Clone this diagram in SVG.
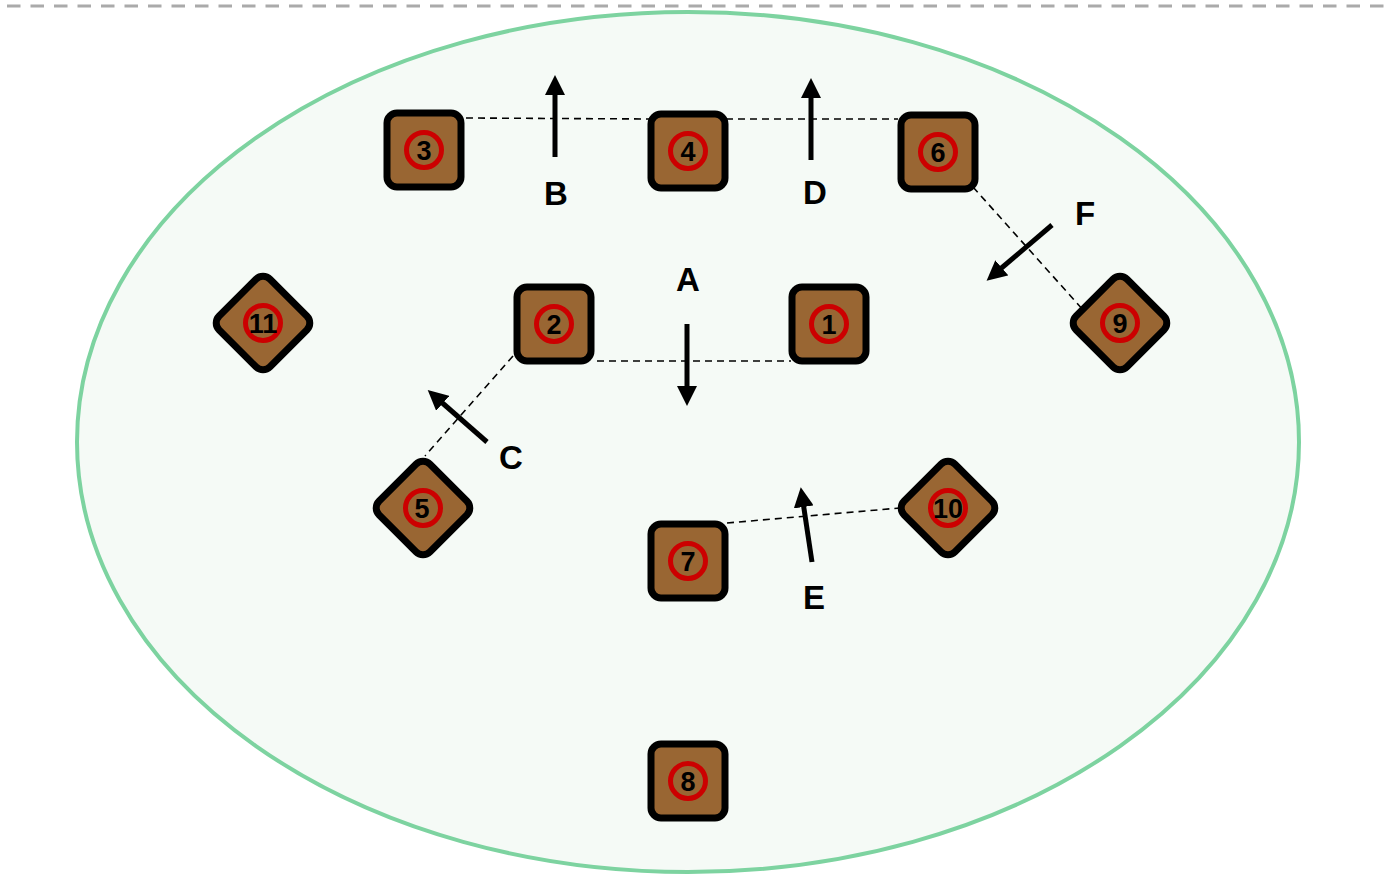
<svg xmlns="http://www.w3.org/2000/svg" width="1391" height="875" viewBox="0 0 1391 875">
<style>
.nb{fill:#996633;stroke:#000;stroke-width:7}
.ring{fill:none;stroke:#cc0000;stroke-width:5}
.num{font-family:"Liberation Sans",Arial,sans-serif;font-weight:bold;font-size:27px;fill:#000;text-anchor:middle;dominant-baseline:central}
.lbl{font-family:"Liberation Sans",Arial,sans-serif;font-weight:bold;font-size:33px;fill:#000;text-anchor:middle;dominant-baseline:central}
.dash{stroke:#000;stroke-width:1.6;stroke-dasharray:7 5;fill:none}
.arr{stroke:#000;stroke-width:5;fill:none;marker-end:url(#ah)}
</style>
<defs>
<marker id="ah" markerWidth="4" markerHeight="4" refX="1" refY="2" orient="auto" markerUnits="strokeWidth" viewBox="0 0 4 4">
<path d="M0,0 L4,2 L0,4 Z" fill="#000"/>
</marker>
</defs>
<rect width="1391" height="875" fill="#fff"/>
<line x1="7" y1="6" x2="1391" y2="6" stroke="#aaaaaa" stroke-width="3" stroke-dasharray="13.5 10"/>
<ellipse cx="688" cy="442" rx="611" ry="430" fill="#f5faf6" stroke="#7dd3a0" stroke-width="4"/>
<g id="connectors">
<line class="dash" x1="466" y1="118" x2="651" y2="119"/>
<line class="dash" x1="726" y1="119" x2="898" y2="119"/>
<line class="dash" x1="973" y1="187" x2="1093" y2="321"/>
<line class="dash" x1="597" y1="361" x2="791" y2="361"/>
<line class="dash" x1="513" y1="356" x2="425" y2="456"/>
<line class="dash" x1="727" y1="523" x2="900" y2="508"/>
</g>
<g id="arrows">
<line class="arr" x1="555" y1="157" x2="555" y2="90"/>
<line class="arr" x1="811" y1="160" x2="811" y2="93"/>
<line class="arr" x1="687" y1="324" x2="687" y2="391"/>
<line class="arr" x1="487" y1="442" x2="439" y2="400"/>
<line class="arr" x1="812" y1="562" x2="803" y2="502"/>
<line class="arr" x1="1052" y1="225" x2="998" y2="271"/>
</g>
<g id="labels">
<text class="lbl" x="688" y="279">A</text>
<text class="lbl" x="556" y="193">B</text>
<text class="lbl" x="511" y="457">C</text>
<text class="lbl" x="815" y="192">D</text>
<text class="lbl" x="814" y="597">E</text>
<text class="lbl" x="1085" y="213">F</text>
</g>
<g id="n1"><rect class="nb" x="792" y="287" width="74" height="74" rx="10"/><circle class="ring" cx="829" cy="324" r="17.5"/><text class="num" x="829" y="325">1</text></g>
<g id="n2"><rect class="nb" x="517" y="287" width="74" height="74" rx="10"/><circle class="ring" cx="554" cy="324" r="17.5"/><text class="num" x="554" y="325">2</text></g>
<g id="n3"><rect class="nb" x="387" y="113" width="74" height="74" rx="10"/><circle class="ring" cx="424" cy="150" r="17.5"/><text class="num" x="424" y="151">3</text></g>
<g id="n4"><rect class="nb" x="651" y="114" width="74" height="74" rx="10"/><circle class="ring" cx="688" cy="151" r="17.5"/><text class="num" x="688" y="152">4</text></g>
<g id="n6"><rect class="nb" x="901" y="115" width="74" height="74" rx="10"/><circle class="ring" cx="938" cy="152" r="17.5"/><text class="num" x="938" y="153">6</text></g>
<g id="n7"><rect class="nb" x="651" y="524" width="74" height="74" rx="10"/><circle class="ring" cx="688" cy="561" r="17.5"/><text class="num" x="688" y="562">7</text></g>
<g id="n8"><rect class="nb" x="651" y="744" width="74" height="74" rx="10"/><circle class="ring" cx="688" cy="781" r="17.5"/><text class="num" x="688" y="782">8</text></g>
<g id="n11"><rect class="nb" x="-36" y="-36" width="72" height="72" rx="10" transform="translate(263,323) rotate(45)"/><circle class="ring" cx="263" cy="323" r="17.5"/><text class="num" x="263" y="324">11</text></g>
<g id="n9"><rect class="nb" x="-36" y="-36" width="72" height="72" rx="10" transform="translate(1120,323) rotate(45)"/><circle class="ring" cx="1120" cy="323" r="17.5"/><text class="num" x="1120" y="324">9</text></g>
<g id="n5"><rect class="nb" x="-36" y="-36" width="72" height="72" rx="10" transform="translate(423,508) rotate(45)"/><circle class="ring" cx="423" cy="508" r="17.5"/><text class="num" x="422" y="509">5</text></g>
<g id="n10"><rect class="nb" x="-36" y="-36" width="72" height="72" rx="10" transform="translate(948,508) rotate(45)"/><circle class="ring" cx="948" cy="508" r="17.5"/><text class="num" x="948" y="509">10</text></g>
</svg>
